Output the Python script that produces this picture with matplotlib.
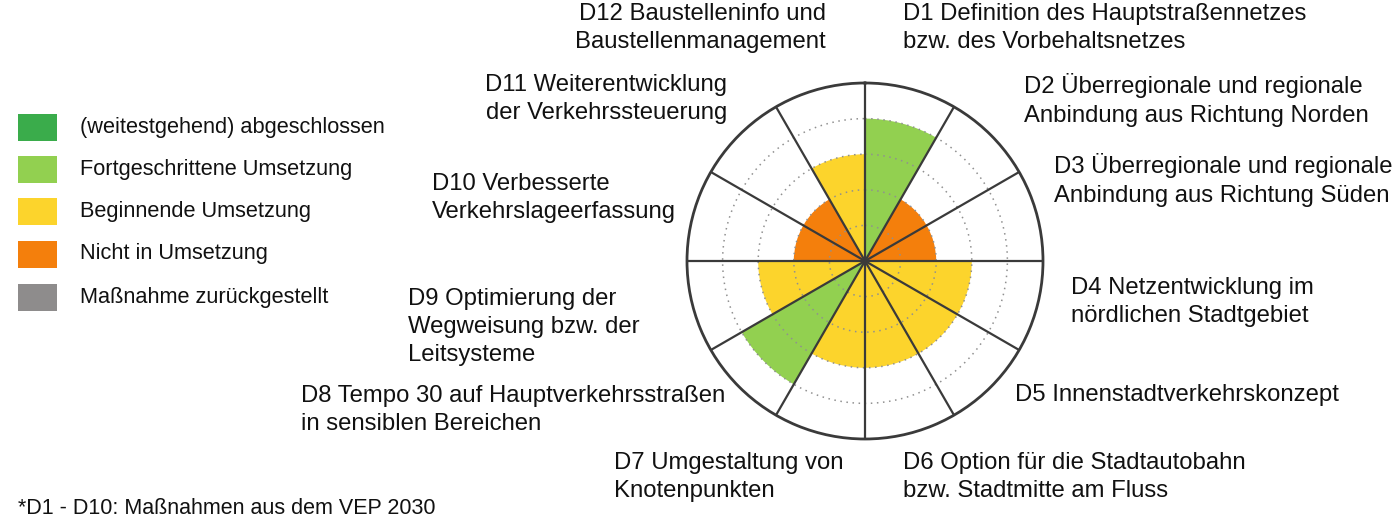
import numpy as np
import matplotlib
matplotlib.use("Agg")
import matplotlib.pyplot as plt
from matplotlib.patches import Rectangle

plt.rcParams['font.family'] = ['Liberation Sans', 'DejaVu Sans']

# status levels: 2 = Nicht in Umsetzung, 3 = Beginnend, 4 = Fortgeschritten, 5 = abgeschlossen
measures = ["D1", "D2", "D3", "D4", "D5", "D6", "D7", "D8", "D9", "D10", "D11", "D12"]
levels = [4, 2, 2, 3, 3, 3, 3, 4, 3, 2, 2, 3]

status_labels = ["(weitestgehend) abgeschlossen", "Fortgeschrittene Umsetzung",
                 "Beginnende Umsetzung", "Nicht in Umsetzung", "Maßnahme zurückgestellt"]
status_colors = ["#3aac4b", "#92d050", "#fcd42c", "#f47f0c", "#8e8c8c"]
level_color = {5: status_colors[0], 4: status_colors[1], 3: status_colors[2], 2: status_colors[3]}

label_texts = [
    "D1 Definition des Hauptstraßennetzes\nbzw. des Vorbehaltsnetzes",
    "D2 Überregionale und regionale\nAnbindung aus Richtung Norden",
    "D3 Überregionale und regionale\nAnbindung aus Richtung Süden",
    "D4 Netzentwicklung im\nnördlichen Stadtgebiet",
    "D5 Innenstadtverkehrskonzept",
    "D6 Option für die Stadtautobahn\nbzw. Stadtmitte am Fluss",
    "D7 Umgestaltung von\nKnotenpunkten",
    "D8 Tempo 30 auf Hauptverkehrsstraßen\nin sensiblen Bereichen",
    "D9 Optimierung der\nWegweisung bzw. der\nLeitsysteme",
    "D10 Verbesserte\nVerkehrslageerfassung",
    "D11 Weiterentwicklung\nder Verkehrssteuerung",
    "D12 Baustelleninfo und\nBaustellenmanagement",
]
# label anchor in pixels (x, y from top, horizontal alignment)
label_pos = [(903, 28, 'left'), (1024, 100, 'left'), (1054, 180, 'left'),
             (1071, 302, 'left'), (1015, 395, 'left'), (903, 477, 'left'),
             (614, 477, 'left'), (301, 410, 'left'), (408, 327, 'left'),
             (432, 198, 'left'), (727, 99, 'right'), (826, 28, 'right')]

W, H = 1400, 530
fig = plt.figure(figsize=(14, 5.3), dpi=100)

cx, cy, R = 865, 261, 178
ax = fig.add_axes([(cx - R) / W, (H - cy - R) / H, 2 * R / W, 2 * R / H], projection='polar')
ax.set_theta_zero_location('N')
ax.set_theta_direction(-1)

n = len(measures)
width = 2 * np.pi / n
theta = np.arange(n) * width
ax.bar(theta, levels, width=width, align='edge',
       color=[level_color[v] for v in levels], edgecolor='none', zorder=1)

# dotted rings
t = np.linspace(0, 2 * np.pi, 400)
for r in [1, 2, 3, 4]:
    ax.plot(t, np.full_like(t, r), color='#909090', lw=1.1, ls=(0, (1, 3)), zorder=2)

# spokes
for th in theta:
    ax.plot([th, th], [0, 5], color='#3a3a3a', lw=1.6, zorder=3)

ax.set_ylim(0, 5)
ax.set_xticks([])
ax.set_yticks([])
ax.grid(False)
ax.spines['polar'].set_color('#3a3a3a')
ax.spines['polar'].set_linewidth(2.0)

for txt, (x, y, ha) in zip(label_texts, label_pos):
    fig.text(x / W, 1 - y / H, txt, ha=ha, va='center', fontsize=17.2, linespacing=1.38, color='#111111')

# legend
rows = [127, 169, 211, 254, 297]
for lab, col, y in zip(status_labels, status_colors, rows):
    fig.patches.append(Rectangle((18 / W, 1 - (y + 13.5) / H), 39 / W, 27 / H,
                                 transform=fig.transFigure, facecolor=col, edgecolor='none'))
    fig.text(80 / W, 1 - y / H, lab, ha='left', va='center', fontsize=15.7, color='#111111')

fig.text(18 / W, 1 - 508 / H, "*D1 - D10: Maßnahmen aus dem VEP 2030", ha='left', va='center',
         fontsize=15.5, color='#111111')

fig.savefig("out.png", dpi=100)
